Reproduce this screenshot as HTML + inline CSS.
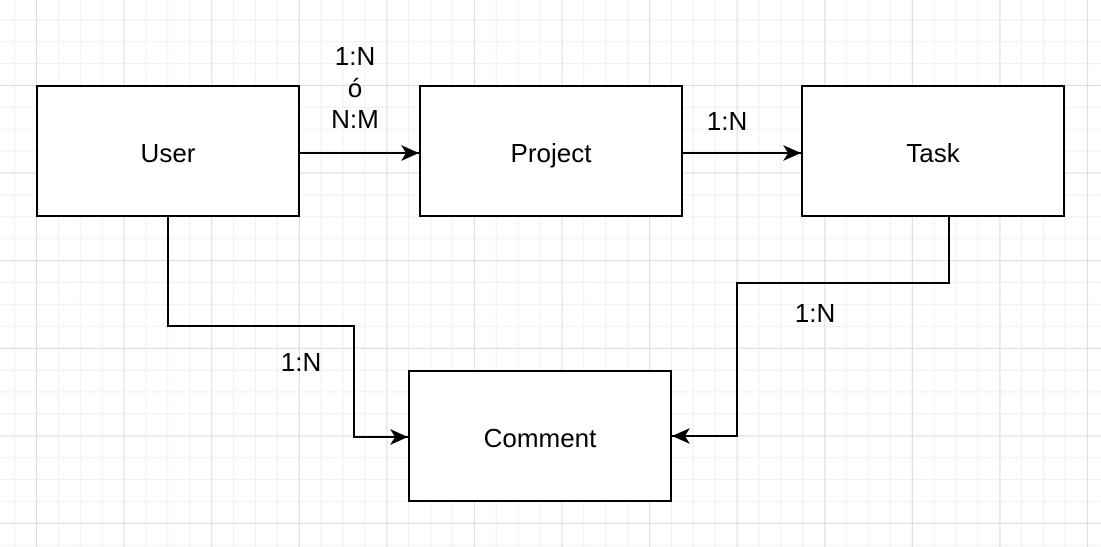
<!DOCTYPE html>
<html><head><meta charset="utf-8"><style>
html,body{margin:0;padding:0;}
body{width:1101px;height:547px;overflow:hidden;background:#fff;position:relative;
background-image:
linear-gradient(to right,#dedede 1px,transparent 1px),
linear-gradient(to bottom,#dedede 1px,transparent 1px),
linear-gradient(to right,#f0f0f0 1px,transparent 1px),
linear-gradient(to bottom,#f0f0f0 1px,transparent 1px);
background-size:87.6px 87.6px,87.6px 87.6px,21.9px 21.9px,21.9px 21.9px;
background-position:36px 0,0 -2.6px,36px 0,0 -2.6px;}
svg{position:absolute;left:0;top:0}
text{font-family:"Liberation Sans",Arial,sans-serif;font-size:26px;fill:#000}
</style></head><body>
<svg width="1101" height="547" viewBox="0 0 1101 547">
<defs><marker id="a" markerWidth="20" markerHeight="18" refX="18" refY="9" orient="auto" markerUnits="userSpaceOnUse">
<path d="M0,1 L18,9 L0,17 L5,9 Z" fill="#000"/></marker></defs>
<g fill="#fff" stroke="#000" stroke-width="2">
<rect x="37" y="86" width="262" height="130"/>
<rect x="420" y="86" width="262" height="130"/>
<rect x="802" y="86" width="262" height="130"/>
<rect x="409" y="371" width="262" height="130"/>
</g>
<g fill="none" stroke="#000" stroke-width="2">
<path d="M299,153 H419" marker-end="url(#a)"/>
<path d="M682,153 H801" marker-end="url(#a)"/>
<path d="M168,216 V326 H354 V437 H408" marker-end="url(#a)"/>
<path d="M949,216 V283 H737 V436 H672" marker-end="url(#a)"/>
</g>
<g text-anchor="middle">
<text x="168" y="162">User</text>
<text x="551" y="162">Project</text>
<text x="933" y="162">Task</text>
<text x="540" y="447">Comment</text>
<text x="355" y="65">1:N</text>
<text x="355" y="97">ó</text>
<text x="355" y="128">N:M</text>
<text x="727" y="130">1:N</text>
<text x="301" y="371">1:N</text>
<text x="815" y="322">1:N</text>
</g>
</svg>
</body></html>
